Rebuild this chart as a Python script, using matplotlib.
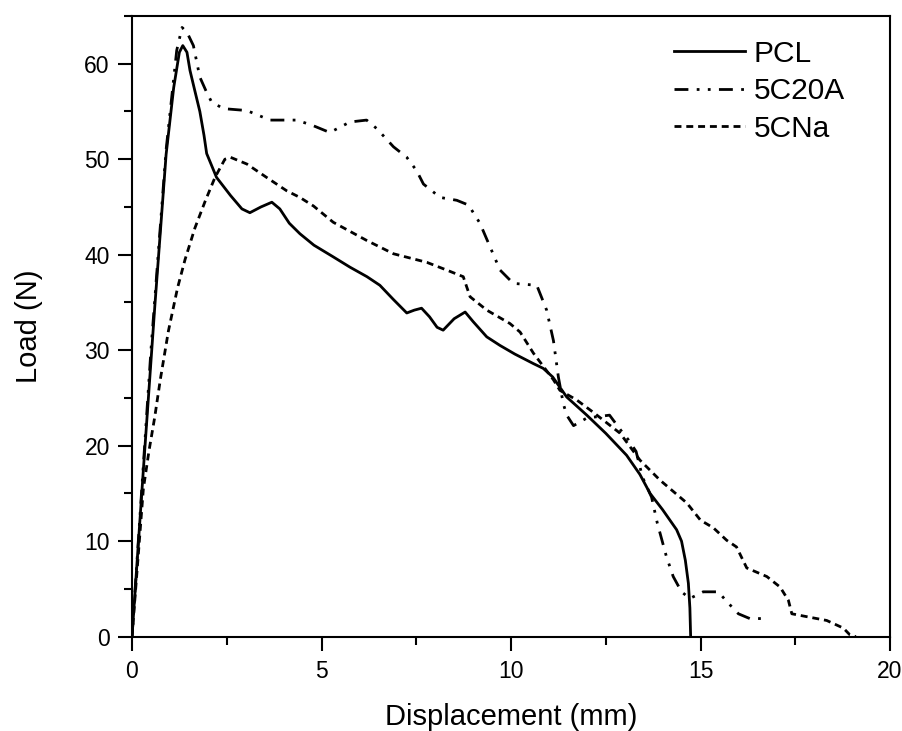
import matplotlib
matplotlib.use("Agg")
import matplotlib.pyplot as plt
from matplotlib.ticker import MultipleLocator

plt.rcParams['font.family'] = ['Liberation Sans', 'DejaVu Sans']
plt.rcParams['lines.scale_dashes'] = False

# PCL
pcl_x = [0, 0.3, 0.6, 0.9, 1.1, 1.25, 1.34, 1.45, 1.53, 1.65, 1.79, 1.9, 1.97, 2.23, 2.6, 2.9, 3.11,
         3.4, 3.69, 3.9, 4.15, 4.43, 4.8, 5.3, 5.75, 6.2, 6.54, 6.9, 7.25, 7.45, 7.64, 7.85, 8.05, 8.21,
         8.5, 8.79, 9.0, 9.36, 9.71, 10.1, 10.59, 10.85, 11.1, 11.47, 12.0, 12.5, 13.05, 13.4, 13.67,
         14.0, 14.37, 14.5, 14.6, 14.68, 14.72, 14.74]
pcl_y = [0, 17.5, 34.5, 50.5, 57.5, 61.2, 61.9, 61.2, 59.3, 57.3, 55.0, 52.5, 50.6, 48.1, 46.2, 44.8, 44.4,
         45.0, 45.5, 44.8, 43.3, 42.2, 41.0, 39.8, 38.7, 37.7, 36.8, 35.3, 33.9, 34.2, 34.4, 33.5, 32.4, 32.1,
         33.3, 34.0, 33.0, 31.4, 30.5, 29.6, 28.6, 28.1, 27.2, 25.1, 23.2, 21.3, 19.0, 17.0, 15.0,
         13.3, 11.2, 10.0, 8.0, 5.6, 3.0, 0]

# 5C20A
c20a_x = [0, 0.5, 0.9, 1.18, 1.32, 1.45, 1.62, 1.79, 1.97, 2.1, 2.41, 3.03, 3.64, 4.35, 4.79, 5.22, 5.75,
          6.19, 6.46, 6.9, 7.25, 7.51, 7.69, 8.13, 8.57, 8.88, 9.18, 9.45, 9.71, 10.06, 10.68, 10.94, 11.12,
          11.25, 11.38, 11.47, 11.65, 12.0, 12.6, 12.9, 13.1, 13.3, 13.47, 13.71, 13.86, 14.1, 14.28, 14.5,
          14.72, 15.07, 15.47, 15.69, 16.0, 16.3, 16.66]
c20a_y = [0, 30, 51, 61.4, 63.8, 63.3, 61.9, 58.6, 57.0, 56.0, 55.3, 55.1, 54.1, 54.1, 53.5, 52.8, 53.9,
          54.1, 53.2, 51.3, 50.2, 48.8, 47.4, 46.0, 45.7, 45.2, 43.3, 40.8, 38.4, 37.0, 36.8, 34.2, 31.0,
          27.2, 24.4, 23.2, 22.1, 22.9, 23.2, 21.6, 20.6, 19.4, 16.7, 14.6, 11.9, 8.4, 6.3, 4.7,
          4.0, 4.7, 4.7, 3.7, 2.4, 1.9, 1.9]

# 5CNa
cna_x = [0, 0.3, 0.45, 0.6, 0.75, 0.96, 1.2, 1.4, 1.66, 1.93, 2.19, 2.45, 2.6, 3.03, 3.55, 4.08, 4.43,
         4.79, 5.31, 6.19, 6.9, 7.78, 8.3, 8.74, 8.92, 9.36, 9.97, 10.24, 10.59, 11.12, 11.29, 11.73,
         12.17, 12.88, 13.4, 13.93, 14.64, 15.0, 15.34, 15.69, 15.95, 16.22, 16.75, 17.1, 17.32, 17.41,
         17.8, 18.33, 18.77, 18.94, 19.1]
cna_y = [0, 15.5, 19.5, 23.0, 27.0, 32.0, 36.5, 39.5, 42.8, 45.6, 48.1, 50.0, 50.2, 49.5, 48.1, 46.7, 46.0,
         45.1, 43.4, 41.5, 40.1, 39.2, 38.4, 37.7, 35.6, 34.2, 32.8, 31.9, 29.7, 26.9, 25.8, 24.8,
         23.5, 21.3, 18.5, 16.4, 14.0, 12.2, 11.4, 10.1, 9.4, 7.2, 6.3, 5.2, 3.8, 2.4,
         2.1, 1.7, 0.9, 0.2, 0]

labels = ['PCL', '5C20A', '5CNa']

fig = plt.figure(figsize=(9.02, 7.31), dpi=100)
ax = fig.add_axes([132/902, 1-636.7/731, (890-132)/902, (636.7-16)/731])

lw = 2.0
ax.plot(pcl_x, pcl_y, color='black', lw=lw, ls='-', label=labels[0])
ax.plot(c20a_x, c20a_y, color='black', lw=lw, ls=(0, (10, 6, 2, 6, 2, 6)), label=labels[1])
ax.plot(cna_x, cna_y, color='black', lw=lw, ls=(0, (5, 3.5)), label=labels[2])

ax.set_xlim(0, 20)
ax.set_ylim(0, 65)
ax.xaxis.set_major_locator(MultipleLocator(5))
ax.xaxis.set_minor_locator(MultipleLocator(2.5))
ax.yaxis.set_major_locator(MultipleLocator(10))
ax.yaxis.set_minor_locator(MultipleLocator(5))

for s in ax.spines.values():
    s.set_linewidth(1.5)
ax.tick_params(which='major', direction='out', length=10, width=1.5, labelsize=16.5, pad=6)
ax.tick_params(which='minor', direction='out', length=6, width=1.5)
ax.tick_params(axis='x', which='major', pad=7)

ax.set_xlabel('Displacement (mm)', fontsize=21, labelpad=14)
ax.set_ylabel('Load (N)', fontsize=21, labelpad=30)

leg = ax.legend(loc='upper right', bbox_to_anchor=(0.956, 0.981), borderaxespad=0,
                frameon=False, fontsize=21.5, handlelength=2.35,
                labelspacing=0.32, handletextpad=0.3)

fig.savefig('out.png', dpi=100)
